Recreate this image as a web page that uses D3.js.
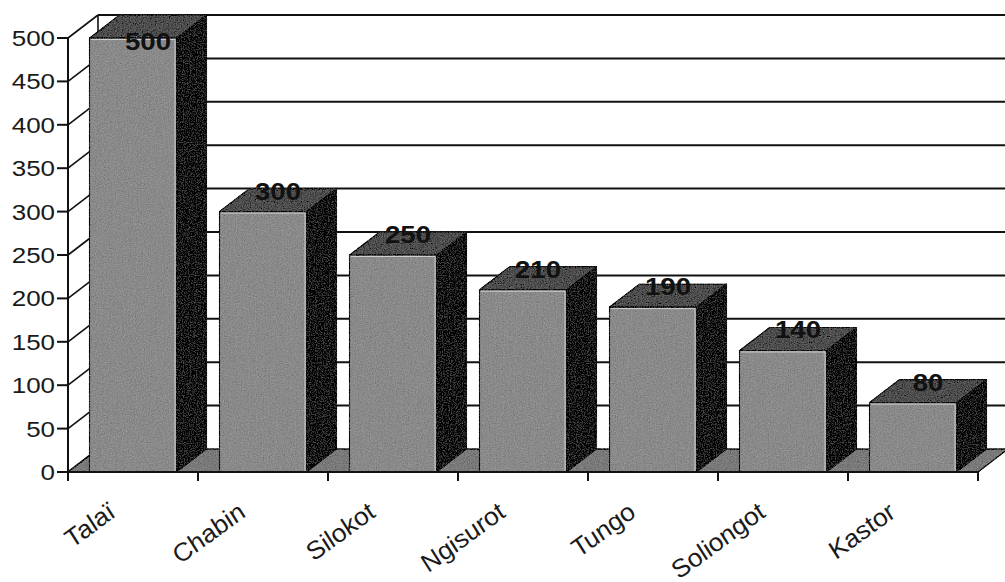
<!DOCTYPE html>
<html>
<head>
<meta charset="utf-8">
<script src="https://cdn.jsdelivr.net/npm/d3@7"></script>
<style>
  html, body { margin: 0; padding: 0; background: #fff; }
  svg { display: block; }
  text { font-family: "Liberation Sans", Arial, sans-serif; }
</style>
</head>
<body>
<svg id="chart" width="1005" height="582"></svg>
<script>
// Data
const categories = ["Talaï", "Chabin", "Silokot", "Ngisurot", "Tungo", "Soliongot", "Kastor"];
const values = [500, 300, 250, 210, 190, 140, 80];
const yTicks = [0, 50, 100, 150, 200, 250, 300, 350, 400, 450, 500];

(function () {
const W = 1005, H = 582;
const svg = d3.select("#chart");

// Plot frame (front plane) and 3D depth offset
const plotLeft = 68, plotRight = 978, plotBottom = 472, plotTop = 38;
const DX = 30, DY = -23;

const x = d3.scaleBand().domain(categories).range([plotLeft, plotRight])
  .paddingInner(0.33).paddingOuter(0.165);
const y = d3.scaleLinear().domain([0, 500]).range([plotBottom, plotTop]);

// Grain filter for the shaded faces
const defs = svg.append("defs");
const f = defs.append("filter").attr("id", "grain")
  .attr("filterUnits", "userSpaceOnUse")
  .attr("x", 0).attr("y", 0).attr("width", W).attr("height", H);
f.append("feTurbulence").attr("type", "fractalNoise").attr("baseFrequency", 0.85)
  .attr("numOctaves", 2).attr("seed", 3).attr("result", "noise");
f.append("feColorMatrix").attr("in", "noise").attr("type", "matrix")
  .attr("values", "0.33 0.33 0.33 0 0  0.33 0.33 0.33 0 0  0.33 0.33 0.33 0 0  0 0 0 0 1")
  .attr("result", "gray");
f.append("feComposite").attr("in", "SourceGraphic").attr("in2", "gray")
  .attr("operator", "arithmetic").attr("k1", 0).attr("k2", 1).attr("k3", 0.4).attr("k4", -0.2)
  .attr("result", "mix");
f.append("feComposite").attr("in", "mix").attr("in2", "SourceAlpha").attr("operator", "in");

const line = d3.line();

// Back wall gridlines
const grid = svg.append("g").attr("stroke", "#111").attr("fill", "none");
yTicks.forEach(t => {
  if (t === 0) return;
  grid.append("path").attr("stroke-width", 2)
    .attr("d", line([[plotLeft + DX, y(t) + DY], [plotRight + DX + 10, y(t) + DY]]));
});
// Side wall: diagonals from each tick back to the wall, and the wall edge
yTicks.forEach(t => {
  grid.append("path").attr("stroke-width", 1.6)
    .attr("d", line([[plotLeft, y(t)], [plotLeft + DX, y(t) + DY]]));
});
grid.append("path").attr("stroke-width", 1.6)
  .attr("d", line([[plotLeft + DX, y(500) + DY], [plotLeft + DX, y(0) + DY]]));

// Floor
svg.append("path")
  .attr("d", line([[plotLeft, plotBottom], [plotRight, plotBottom],
                   [plotRight + DX, plotBottom + DY], [plotLeft + DX, plotBottom + DY]]) + "Z")
  .attr("fill", "#7a7a7a").attr("stroke", "#111").attr("stroke-width", 1.4)
  .attr("filter", "url(#grain)");

// Value axis
const yAxisG = svg.append("g");
yAxisG.append("path").attr("d", line([[plotLeft, plotBottom], [plotLeft, plotTop]]))
  .attr("stroke", "#111").attr("stroke-width", 2);
yTicks.forEach(t => {
  yAxisG.append("path").attr("d", line([[plotLeft - 11, y(t)], [plotLeft, y(t)]]))
    .attr("stroke", "#111").attr("stroke-width", 2);
  yAxisG.append("text")
    .attr("transform", `translate(${plotLeft - 13},${y(t)}) scale(1.18,1)`)
    .attr("text-anchor", "end").attr("dy", "0.36em")
    .attr("font-size", 22).attr("fill", "#1a1a1a")
    .text(t);
});

// Bars as prisms: side, top, front
const bars = svg.append("g").attr("stroke", "#111").attr("stroke-width", 1.2)
  .attr("stroke-linejoin", "round");
categories.forEach((c, i) => {
  const x0 = x(c), x1 = x(c) + x.bandwidth();
  const yt = y(values[i]), yb = y(0);
  const g = bars.append("g").attr("filter", "url(#grain)");
  g.append("path").attr("fill", "#161616")
    .attr("d", line([[x1, yb], [x1 + DX, yb + DY], [x1 + DX, yt + DY], [x1, yt]]) + "Z");
  g.append("path").attr("fill", "#4e4e4e")
    .attr("d", line([[x0, yt], [x1, yt], [x1 + DX, yt + DY], [x0 + DX, yt + DY]]) + "Z");
  g.append("path").attr("fill", "#8a8a8a")
    .attr("d", line([[x0, yb], [x1, yb], [x1, yt], [x0, yt]]) + "Z");
  // light edge on the front face
  bars.append("path").attr("fill", "none").attr("stroke", "#cfcfcf").attr("stroke-width", 1)
    .attr("d", line([[x1 - 1.5, yb - 1], [x1 - 1.5, yt + 1.5], [x0 + 1.5, yt + 1.5]]));
});

// Category axis
const xAxisG = svg.append("g");
xAxisG.append("path").attr("d", line([[plotLeft, plotBottom], [plotRight, plotBottom]]))
  .attr("stroke", "#111").attr("stroke-width", 2.2);
const step = x.step();
d3.range(categories.length + 1).forEach(k => {
  const tx = plotLeft + k * step;
  xAxisG.append("path").attr("d", line([[tx, plotBottom], [tx, plotBottom + 9]]))
    .attr("stroke", "#111").attr("stroke-width", 2);
});
categories.forEach(c => {
  const cx = x(c) + x.bandwidth() / 2;
  xAxisG.append("text")
    .attr("transform", `translate(${cx - 15},${plotBottom + 43}) scale(1.15,1) rotate(-40)`)
    .attr("text-anchor", "end").attr("font-style", "italic")
    .attr("font-size", 24).attr("fill", "#1a1a1a")
    .text(c);
});

// Value labels over the top faces
const capH = 17;
categories.forEach((c, i) => {
  const cx = x(c) + x.bandwidth() / 2 + DX / 2;
  const yt = y(values[i]);
  let by = yt - 12;
  if (by - capH < y(500) + DY) by = yt + 12;
  svg.append("text")
    .attr("transform", `translate(${cx},${by}) scale(1.15,1)`)
    .attr("text-anchor", "middle").attr("font-weight", "bold")
    .attr("font-size", 24).attr("fill", "#111")
    .text(values[i]);
});
})();
</script>
</body>
</html>
